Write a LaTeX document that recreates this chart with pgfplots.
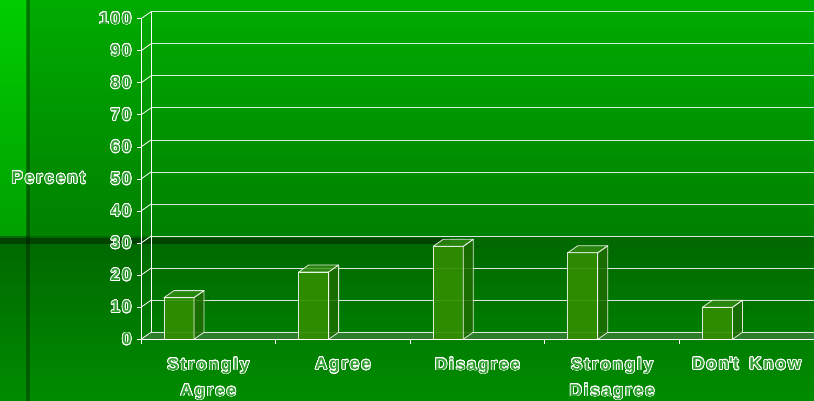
\documentclass[border=0pt]{standalone}
\usepackage{pgfplots}
\pgfplotsset{compat=1.18}
\usepackage{fontspec}
\setmainfont{Liberation Sans}
\newfontfamily\labfont{Liberation Sans}[LetterSpace=11]
\usepackage{contour}
\contourlength{0.75pt}
\contournumber{24}
\definecolor{labfill}{RGB}{50,160,50}
\definecolor{bgtop}{RGB}{0,172,0}
\definecolor{bgmid}{RGB}{0,128,0}
\definecolor{striptop}{RGB}{0,205,0}
\definecolor{stripmid}{RGB}{0,160,0}
\definecolor{lowtop}{RGB}{0,104,0}
\definecolor{lowbot}{RGB}{0,140,0}
\definecolor{barfront}{RGB}{50,142,0}
\definecolor{barside}{RGB}{30,108,0}
\definecolor{bartop}{RGB}{55,142,20}
\definecolor{floorgreen}{RGB}{45,125,45}
\newcommand\outl[1]{{\color{labfill}\contour{white}{#1}}}
\newcommand\lf{\labfont\bfseries\fontsize{17}{26}\selectfont}
\begin{document}
\begin{tikzpicture}
\begin{scope}
\clip (0,0) rectangle (814pt,401pt);
% background
\shade[top color=bgtop, bottom color=bgmid] (0,164pt) rectangle (814pt,401pt);
\shade[top color=striptop, bottom color=stripmid] (0,164pt) rectangle (27pt,401pt);
\shade[top color=lowtop, bottom color=lowbot] (0,0) rectangle (814pt,164pt);
\fill[black, opacity=0.3] (26pt,0) rectangle (30pt,401pt);
\fill[black, opacity=0.35] (0,157pt) rectangle (450pt,163pt);
% back wall
\begin{axis}[at={(151pt,68.7pt)}, anchor=south west, scale only axis,
  width=663pt, height=320.6pt, xmin=0, xmax=1, ymin=0, ymax=100,
  hide x axis, axis y line*=left, clip=false, axis on top,
  axis line style={white, line width=0.8pt, -},
  ytick={0,10,...,100}, yticklabels={}, major tick length=0pt,
  ymajorgrids, grid style={white, line width=0.8pt, opacity=0.85}]
\addplot[fill=floorgreen, draw=none] coordinates {(0,0) (1,0) (1,-2.183) (-0.01508,-2.183)} -- cycle;
\end{axis}
% front
\begin{axis}[at={(141pt,61.7pt)}, anchor=south west, scale only axis,
  width=673pt, height=320.6pt, xmin=0, xmax=5, ymin=0, ymax=100,
  axis x line*=bottom, axis y line*=left, clip=false, axis on top,
  axis line style={white, line width=0.8pt, -},
  ytick={0,10,...,100},
  yticklabels={\outl{0},\outl{10},\outl{20},\outl{30},\outl{40},\outl{50},\outl{60},\outl{70},\outl{80},\outl{90},\outl{100}},
  yticklabel style={font=\lf, xshift=-2pt},
  tick align=outside, major tick length=4pt, minor tick length=5pt,
  major y tick style={white, line width=0.8pt},
  major x tick style={draw=none},
  minor x tick style={white, line width=0.8pt},
  xtick={0.5,1.5,2.5,3.5,4.5}, minor xtick={0,1,2,3,4,5},
  xticklabels={{\outl{Strongly}\\\outl{Agree}},\outl{Agree},\outl{Disagree},{\outl{Strongly}\\\outl{Disagree}},\outl{Don\textquotesingle t\hspace{4pt} Know}},
  xticklabel style={font=\lf, align=center, anchor=north, yshift=-11pt},
  ylabel={\outl{Percent}},
  every axis y label/.style={at={(axis description cs:-0.1374,0.503)}, anchor=center, font=\lf},
]
% side wall connectors
\addplot[white, line width=0.8pt, -, quiver={u=0.0743, v=2.183}] coordinates {(0,0) (0,10) (0,20) (0,30) (0,40) (0,50) (0,60) (0,70) (0,80) (0,90) (0,100)};
% bars (front faces)
\addplot[ybar, bar width=30pt, bar shift=-29.3pt, fill=barfront, fill opacity=0.9, draw=white, draw opacity=0.85, line width=0.8pt]
  coordinates {(0.5,13) (1.5,21) (2.5,29) (3.5,27) (4.5,10)};
% bars (side and top faces)
\addplot[scatter, only marks, mark=*, mark size=0.1pt, mark options={draw=none, fill=none},
  visualization depends on={rawy \as \val},
  scatter/@pre marker code/.code={\pgfscope
    \pgfmathsetmacro\h{\val*3.206}
    \filldraw[fill=barside, fill opacity=0.85, draw=white, draw opacity=0.85, line width=0.8pt, line join=round]
      (-14.3pt,0pt) -- (-4.3pt,7pt) -- (-4.3pt,{(7-\h)*1pt}) -- (-14.3pt,{-\h*1pt}) -- cycle;
    \filldraw[fill=bartop, fill opacity=0.75, draw=white, draw opacity=0.85, line width=0.8pt, line join=round]
      (-44.3pt,0pt) -- (-14.3pt,0pt) -- (-4.3pt,7pt) -- (-34.3pt,7pt) -- cycle;
  },
  scatter/@post marker code/.code={\endpgfscope}]
  coordinates {(0.5,13) (1.5,21) (2.5,29) (3.5,27) (4.5,10)};
\end{axis}
\end{scope}
\pgfresetboundingbox
\useasboundingbox (0,0) rectangle (814pt,401pt);
\end{tikzpicture}
\end{document}
